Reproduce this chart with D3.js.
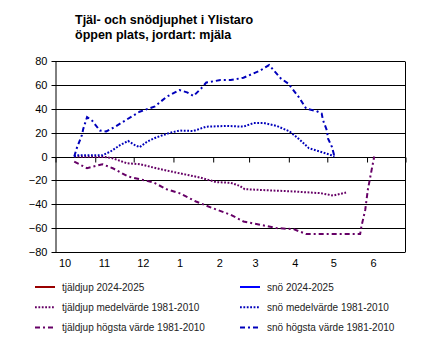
<!DOCTYPE html>
<html>
<head>
  <meta charset="utf-8">
  <script src="https://d3js.org/d3.v7.min.js"></script>
  <style>
    body { margin: 0; background: #fff; }
    text { font-family: Arial, "Liberation Sans", sans-serif; }
  </style>
</head>
<body>
<script type="text/javascript">
  // tick labels on the x axis (month numbers) and y axis
  var monthLabels = ["10", "11", "12", "1", "2", "3", "4", "5", "6"];
  var yTicks = [-80, -60, -40, -20, 0, 20, 40, 60, 80];

  // snow depth, highest value 1981-2010 [date, cm]
  var snowMax = [
    ["2024-10-16", 0], ["2024-10-18", 7], ["2024-10-22", 18], ["2024-10-23", 23],
    ["2024-10-26", 33], ["2024-10-30", 30], ["2024-11-05", 21.7], ["2024-11-10", 21],
    ["2024-11-17", 25], ["2024-11-26", 31], ["2024-12-06", 37.5], ["2024-12-18", 42],
    ["2024-12-27", 50], ["2025-01-06", 55.7], ["2025-01-12", 53.7], ["2025-01-17", 50.7],
    ["2025-01-23", 57], ["2025-01-27", 62], ["2025-02-07", 64], ["2025-02-15", 64],
    ["2025-02-25", 66], ["2025-03-10", 72], ["2025-03-17", 76.6], ["2025-03-26", 65.5],
    ["2025-04-01", 61], ["2025-04-09", 50], ["2025-04-15", 40], ["2025-04-23", 38],
    ["2025-04-27", 36], ["2025-04-28", 30.6], ["2025-05-01", 22], ["2025-05-02", 15],
    ["2025-05-05", 8], ["2025-05-07", 0]
  ];

  // snow depth, mean 1981-2010
  var snowMean = [
    ["2024-10-16", 0], ["2024-10-18", 1], ["2024-11-07", 1], ["2024-11-13", 4],
    ["2024-11-21", 9.7], ["2024-11-27", 13], ["2024-12-02", 9.7], ["2024-12-06", 7.8],
    ["2024-12-12", 12.5], ["2024-12-19", 16], ["2024-12-30", 20], ["2025-01-06", 21.7],
    ["2025-01-17", 21.4], ["2025-01-27", 25], ["2025-02-12", 25.6], ["2025-02-25", 25],
    ["2025-03-05", 28], ["2025-03-13", 28], ["2025-03-23", 25.6], ["2025-04-02", 21],
    ["2025-04-10", 14], ["2025-04-17", 7], ["2025-04-26", 4], ["2025-05-04", 1.3],
    ["2025-05-07", 0]
  ];

  // frost depth, mean 1981-2010
  var frostMean = [
    ["2024-10-16", 0], ["2024-11-09", -0.5], ["2024-11-15", -1.5], ["2024-11-26", -5.6],
    ["2024-12-06", -6.4], ["2024-12-22", -10.6], ["2025-01-06", -14], ["2025-01-22", -17.6],
    ["2025-02-04", -21.5], ["2025-02-15", -22], ["2025-02-22", -24.6], ["2025-02-26", -27.4],
    ["2025-03-10", -28], ["2025-04-05", -29.3], ["2025-04-26", -30.7], ["2025-05-06", -32.7],
    ["2025-05-16", -30.2]
  ];

  // frost depth, highest value 1981-2010
  var frostMax = [
    ["2024-10-16", -4.3], ["2024-10-26", -9.8], ["2024-11-07", -6.5], ["2024-11-15", -9.8],
    ["2024-11-27", -16.8], ["2024-12-06", -19], ["2024-12-17", -21.8], ["2024-12-27", -27.4],
    ["2025-01-06", -30.7], ["2025-01-19", -37.7], ["2025-02-01", -43.3], ["2025-02-15", -48.8],
    ["2025-02-25", -54.4], ["2025-03-10", -57.2], ["2025-03-23", -60], ["2025-04-05", -60.8],
    ["2025-04-15", -65], ["2025-05-27", -65], ["2025-05-28", -58.6], ["2025-05-31", -44.6],
    ["2025-06-02", -28], ["2025-06-05", -11], ["2025-06-07", 0]
  ];

  // 2024-2025 series have no values yet
  var frostNow = [];
  var snowNow = [];

  var legendItems = [
    { name: "tjäldjup 2024-2025", color: "#990000", dash: null, col: 0, row: 0 },
    { name: "tjäldjup medelvärde 1981-2010", color: "#660066", dash: "1.8,1.6", col: 0, row: 1 },
    { name: "tjäldjup högsta värde 1981-2010", color: "#660066", dash: "5,3,2,3", col: 0, row: 2 },
    { name: "snö 2024-2025", color: "#0000ff", dash: null, col: 1, row: 0 },
    { name: "snö medelvärde 1981-2010", color: "#0000bb", dash: "1.8,1.6", col: 1, row: 1 },
    { name: "snö högsta värde 1981-2010", color: "#0000bb", dash: "5,3,2,3", col: 1, row: 2 }
  ];

  function draw() {
    "use strict";
    var width = 430, height = 352;
    var left = 55, right = 405, top = 61, bottom = 252;
    var parse = d3.timeParse("%Y-%m-%d");

    var svg = d3.select("body").append("svg")
        .attr("width", width)
        .attr("height", height);

    // title, two lines
    svg.selectAll("text.title")
        .data(["Tjäl- och snödjuphet i Ylistaro", "öppen plats, jordart: mjäla"])
        .enter().append("text")
        .attr("class", "title")
        .attr("x", 75)
        .attr("y", function (d, i) { return 24 + i * 15; })
        .style("font-size", "12.5px")
        .style("font-weight", "bold")
        .text(function (d) { return d; });

    var x = d3.scaleTime()
        .domain([parse("2024-10-01"), parse("2025-07-01")])
        .range([left, right]);
    var y = d3.scaleLinear()
        .domain([-80, 80])
        .range([bottom, top]);

    // horizontal grid lines
    svg.append("g").selectAll("line")
        .data(yTicks)
        .enter().append("line")
        .attr("x1", left).attr("x2", right)
        .attr("y1", function (d) { return Math.round(y(d)) + 0.5; })
        .attr("y2", function (d) { return Math.round(y(d)) + 0.5; })
        .style("stroke", "#000")
        .style("stroke-width", 1);

    // right border
    svg.append("line")
        .attr("x1", right + 0.5).attr("x2", right + 0.5)
        .attr("y1", Math.round(top) + 0.5).attr("y2", Math.round(bottom) + 0.5)
        .style("stroke", "#000");

    // y axis
    var yAxis = svg.append("g")
        .attr("transform", "translate(" + (left + 0.5) + ",0.5)")
        .call(d3.axisLeft(y).tickValues(yTicks).tickSize(4).tickPadding(4).tickSizeOuter(0));
    yAxis.selectAll("text").style("font-size", "11px").style("fill", "#000")
        .attr("font-family", null);
    yAxis.selectAll("line,path").style("stroke", "#000");
    yAxis.selectAll(".tick").attr("transform", function (d) {
      return "translate(0," + Math.round(y(d)) + ")";
    });

    // x axis sits on the zero line, labels at bottom
    var months = x.ticks(d3.timeMonth.every(1));
    var xAxis = svg.append("g")
        .attr("transform", "translate(0," + (Math.round(y(0)) + 0.5) + ")")
        .call(d3.axisBottom(x).tickValues(months).tickSize(5).tickFormat(""));
    xAxis.select("path").remove();
    xAxis.selectAll("line").style("stroke", "#000")
        .attr("transform", function () { return "translate(0.5,0)"; });

    svg.append("g").selectAll("text")
        .data(monthLabels)
        .enter().append("text")
        .attr("x", function (d, i) { return x(months[i]) + 4; })
        .attr("y", bottom + 15)
        .style("font-size", "11px")
        .text(function (d) { return d; });

    var line = d3.line()
        .x(function (d) { return x(parse(d[0])); })
        .y(function (d) { return y(d[1]); });

    var series = [
      { data: frostMean, item: legendItems[1] },
      { data: frostMax, item: legendItems[2] },
      { data: snowMean, item: legendItems[4] },
      { data: snowMax, item: legendItems[5] },
      { data: frostNow, item: legendItems[0] },
      { data: snowNow, item: legendItems[3] }
    ];

    svg.append("g").selectAll("path")
        .data(series.filter(function (s) { return s.data.length > 0; }))
        .enter().append("path")
        .attr("d", function (s) { return line(s.data); })
        .style("fill", "none")
        .style("stroke", function (s) { return s.item.color; })
        .style("stroke-width", 2)
        .style("stroke-dasharray", function (s) { return s.item.dash; });

    // legend
    var lg = svg.append("g").selectAll("g")
        .data(legendItems)
        .enter().append("g")
        .attr("transform", function (d) {
          return "translate(" + (d.col === 0 ? 35 : 240) + "," + (287 + d.row * 20.3) + ")";
        });
    lg.append("line")
        .attr("x1", 0).attr("x2", 20)
        .style("stroke", function (d) { return d.color; })
        .style("stroke-width", 2)
        .style("stroke-dasharray", function (d) { return d.dash; });
    lg.append("text")
        .attr("x", 27)
        .attr("y", 3.5)
        .style("font-size", "10px")
        .style("fill", "#222")
        .text(function (d) { return d.name; });
  }

  draw();
</script>
</body>
</html>
